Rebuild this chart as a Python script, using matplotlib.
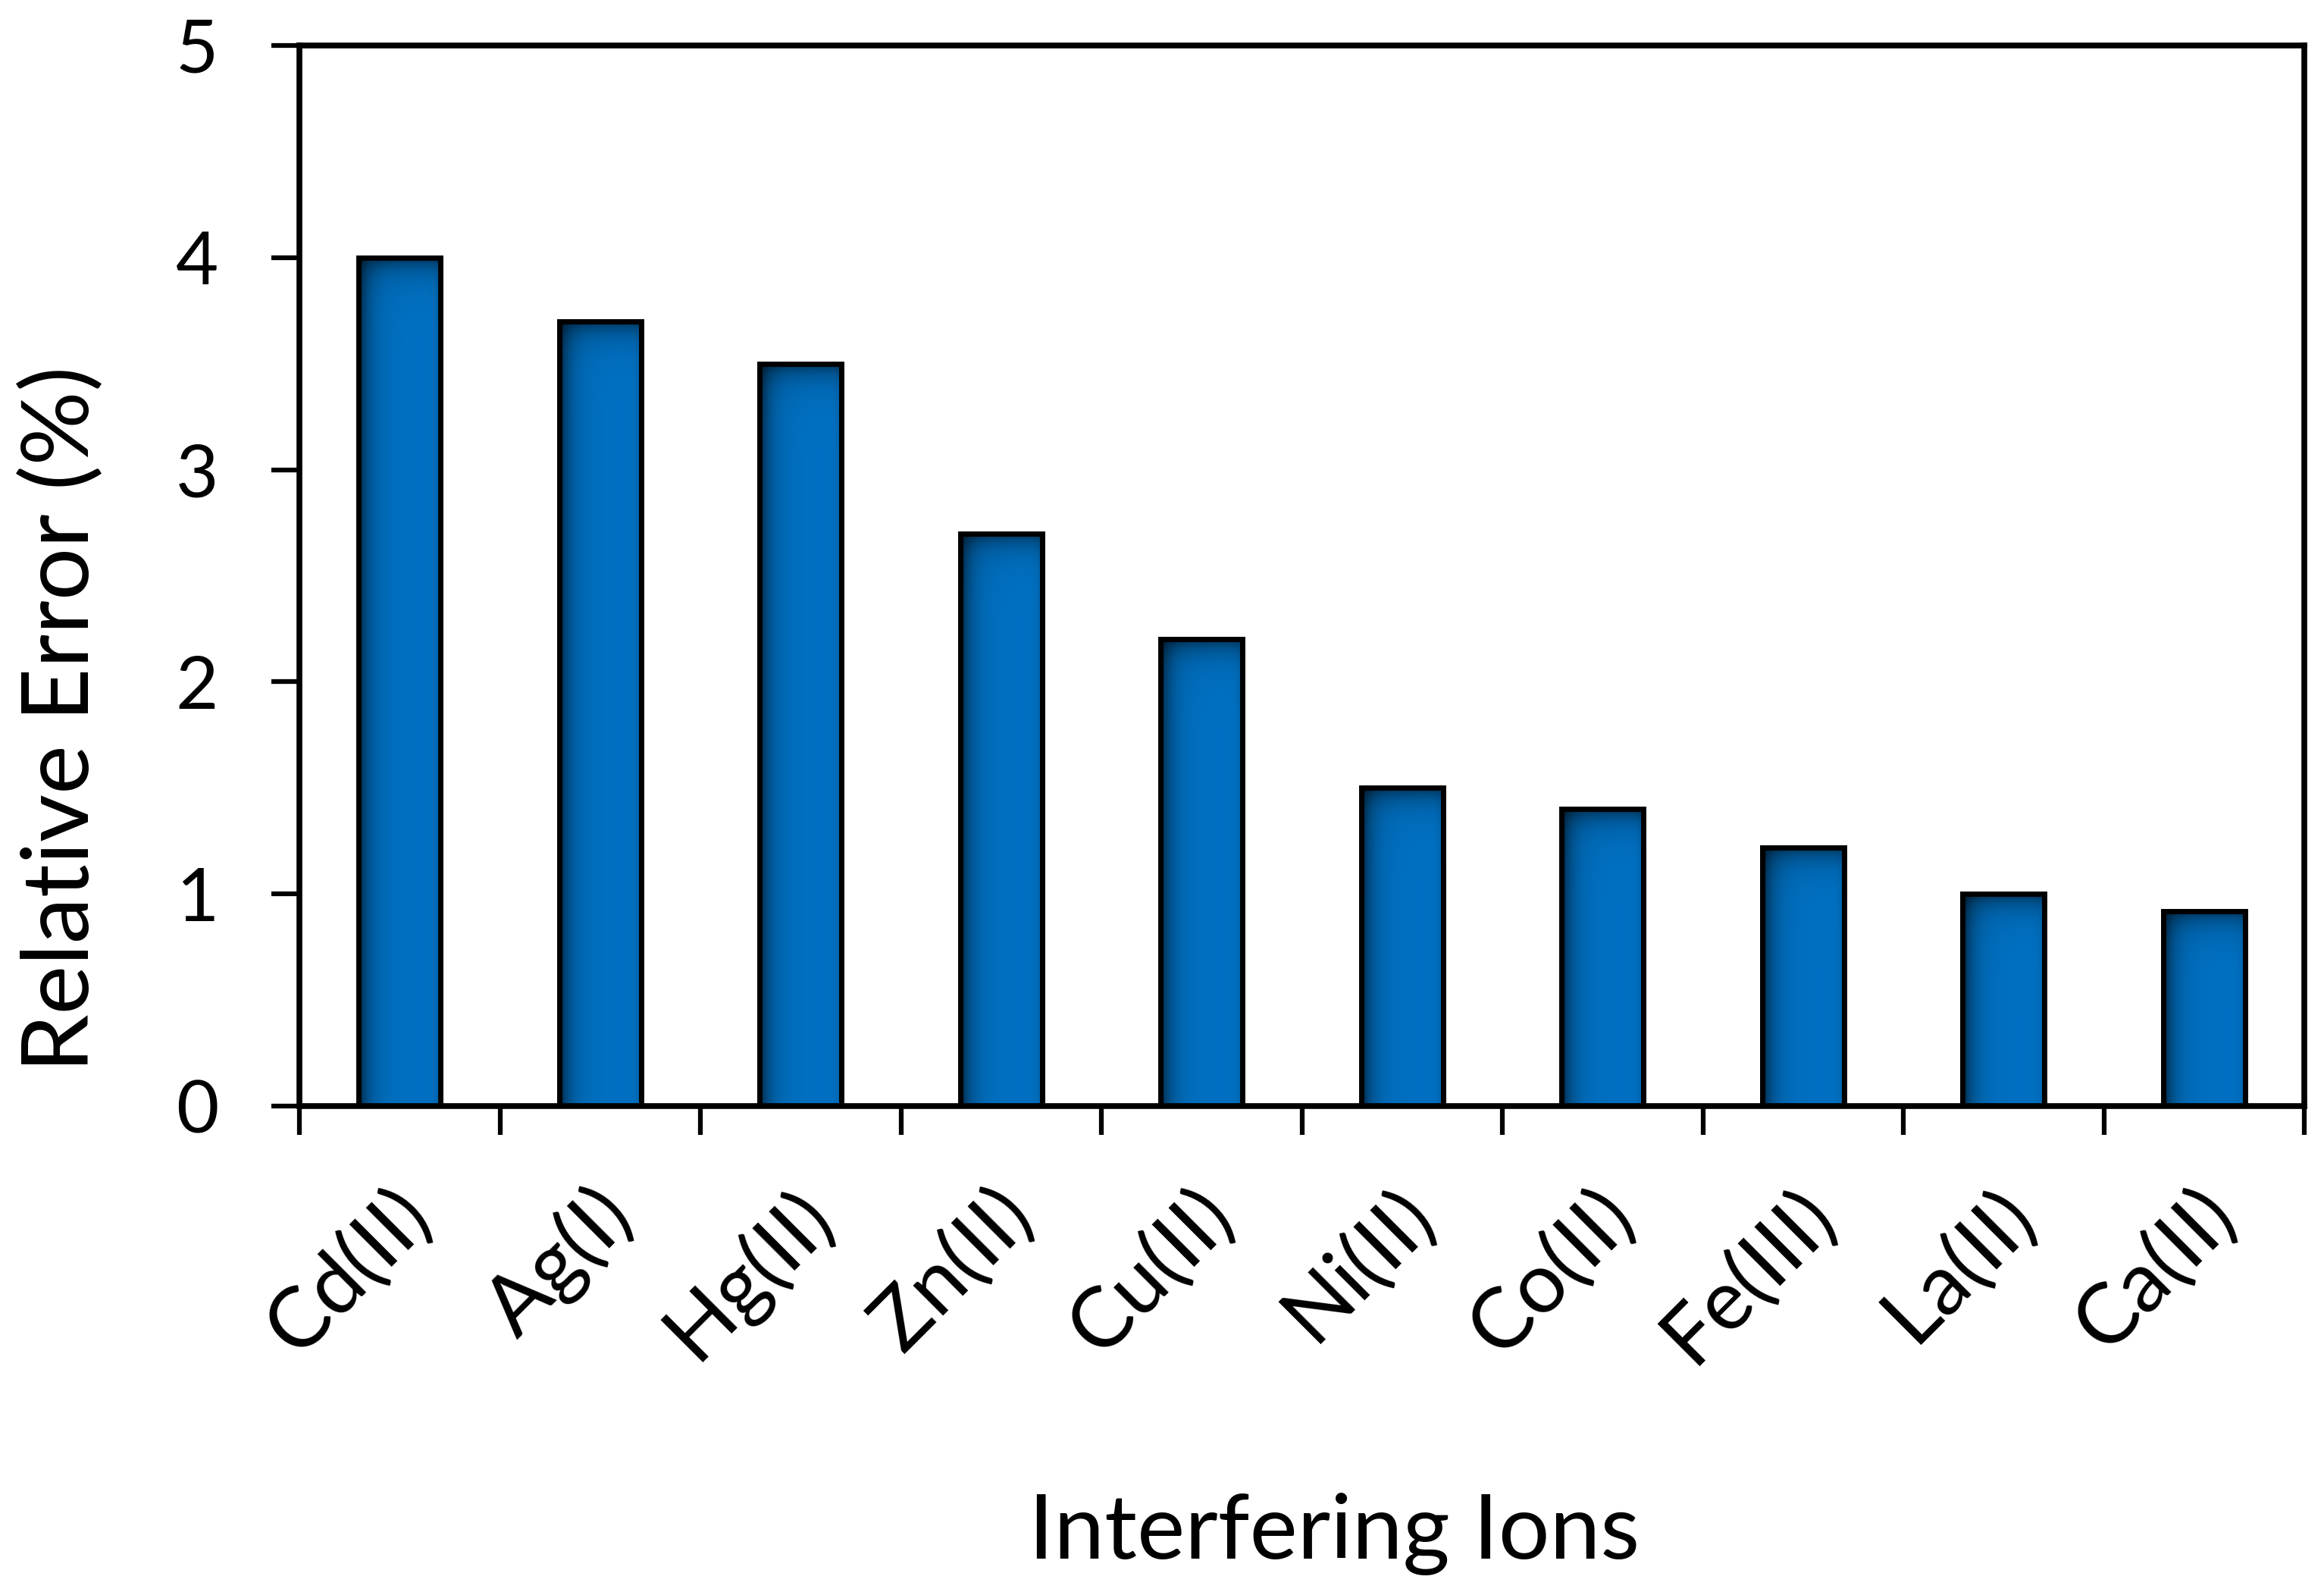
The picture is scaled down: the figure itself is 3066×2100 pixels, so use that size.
import numpy as np
import matplotlib
matplotlib.use("Agg")
import matplotlib.pyplot as plt
import matplotlib.transforms as mtransforms

categories = ["Cd(II)", "Ag(I)", "Hg(II)", "Zn(II)", "Cu(II)", "Ni(II)",
              "Co(II)", "Fe(III)", "La(II)", "Ca(II)"]
values = [4.0, 3.7, 3.5, 2.7, 2.2, 1.5, 1.4, 1.22, 1.0, 0.92]
yticks = [0, 1, 2, 3, 4, 5]

plt.rcParams['font.family'] = ['Lato', 'DejaVu Sans']

W, H = 3066, 2100
fig = plt.figure(figsize=(W / 100, H / 100), dpi=100)
ax = fig.add_axes([395 / W, 1 - 1459 / H, (3040 - 395) / W, (1459 - 60) / H])

x = np.arange(len(categories))
bars = ax.bar(x, values, width=0.41, facecolor='none', edgecolor='black',
              linewidth=5.0, zorder=3)

base = np.array([0.0, 0.44, 0.76])
for b in bars:
    x0, w, h = b.get_x(), b.get_width(), b.get_height()
    nx, ny = 120, 600
    u = np.linspace(0, 1, nx)[None, :]
    dy = np.linspace(0, h, ny)[:, None]
    f = (1 - 0.68 * np.exp(-u / 0.13)) * (1 - 0.55 * np.exp(-dy / 0.06)) \
        * (1 - 0.25 * np.exp(-(1 - u) / 0.04))
    img = np.clip(base[None, None, :] * f[:, :, None], 0, 1)
    im = ax.imshow(img, extent=(x0, x0 + w, 0, h), origin='upper',
                   aspect='auto', interpolation='bilinear', zorder=2)
    im.set_clip_path(b)

ax.set_xlim(-0.5, len(categories) - 0.5)
ax.set_ylim(0, 5)
ax.set_yticks(yticks)
ax.set_yticklabels([str(t) for t in yticks])

ax.set_xticks(x)
ax.set_xticklabels(categories, rotation=45, ha='right', va='center',
                   rotation_mode='anchor')
ax.set_xticks(np.arange(len(categories) + 1) - 0.5, minor=True)
ax.tick_params(axis='x', which='major', length=0, pad=92, labelsize=80)
ax.tick_params(axis='x', which='minor', length=27, width=4.5, direction='out')
ax.tick_params(axis='y', which='major', length=27, width=4.5, direction='out',
               pad=50, labelsize=70)

offset = mtransforms.ScaledTranslation(25 / 100, 0, fig.dpi_scale_trans)
for lab in ax.get_xticklabels():
    lab.set_transform(lab.get_transform() + offset)

for s in ax.spines.values():
    s.set_linewidth(5.5)
    s.set_color('black')

fig.text(82 / W, 1 - 948 / H, "Relative Error (%)", rotation=90,
         ha='center', va='center', fontsize=88)
fig.text(1760 / W, 1 - 2024 / H, "Interfering Ions",
         ha='center', va='center', fontsize=86)

fig.savefig("out.png", dpi=100, facecolor='white')
